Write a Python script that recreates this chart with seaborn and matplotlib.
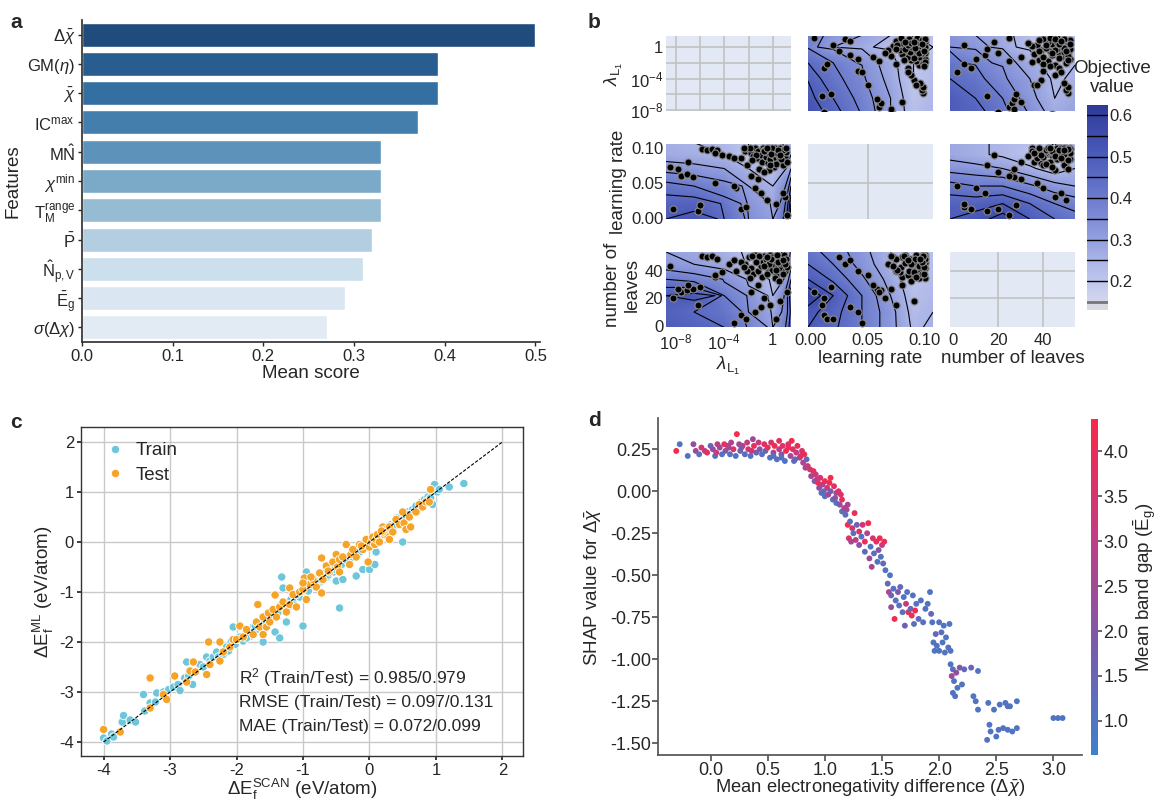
import numpy as np
import pandas as pd
import matplotlib
matplotlib.use("Agg")
import matplotlib.pyplot as plt
import seaborn as sns
from matplotlib.colors import LinearSegmentedColormap, Normalize
from matplotlib.cm import ScalarMappable

sns.set_theme(style="ticks")
plt.rcParams['font.family'] = ['Liberation Sans', 'DejaVu Sans']
plt.rcParams['mathtext.fontset'] = 'custom'
plt.rcParams['mathtext.rm'] = 'Liberation Sans'
plt.rcParams['mathtext.it'] = 'Liberation Sans:italic'
plt.rcParams['mathtext.bf'] = 'Liberation Sans:bold'
plt.rcParams['axes.unicode_minus'] = False

# ---------------- data: panel a ----------------
feature_labels = [r"$\Delta\bar{\chi}$", r"GM($\eta$)", r"$\bar{\chi}$", r"IC$^{\rm max}$",
                  r"M$\hat{\rm N}$", r"$\chi^{\rm min}$", r"T$_{\rm M}^{\rm range}$", r"$\bar{\rm P}$",
                  r"$\hat{\rm N}_{\rm p,V}$", r"$\bar{\rm E}_{\rm g}$", r"$\sigma(\Delta\chi)$"]
mean_scores = [0.500, 0.392, 0.392, 0.371, 0.330, 0.330, 0.330, 0.320, 0.310, 0.290, 0.270]

# ---------------- data: panel b (trials) ----------------
trial_l1_log10 = [-2.3, -2.0, -1.8, -1.6, -1.5, -1.3, -1.2, -1.0, -0.9, -0.8, -0.7, -0.6, -0.5, -0.4, -0.3,
                  -0.2, -0.1, 0.0, 0.1, 0.2, 0.3, 0.4, 0.5, 0.6, 0.7, 0.8, 0.9, 1.0, 1.1, 1.2,
                  -2.6, -2.1, -1.9, -1.1, -0.35, 0.15, 0.55, 0.85, -1.4, -0.75, -0.05, 0.35, 0.65, -1.7,
                  -0.45, 1.05, 0.25, -2.4, -0.15, 0.45,
                  -5.8, -5.4, -5.0, -4.6, -4.2, -3.6, -3.2, -4.8, -8.5, -7.6, -7.1, -6.6, -4.8, -3.0,
                  -8.2, -6.2, -6.0, -2.6, -2.2, -3.2, 0.3, -1.5, -1.0, -0.7, -1.2, -7.8, 1.2, 1.0, 0.8,
                  -0.5, -7.0, -1.8, 0.6, -0.2]
trial_lr = [0.095, 0.098, 0.092, 0.088, 0.100, 0.085, 0.095, 0.090, 0.080, 0.100, 0.097, 0.087, 0.093, 0.078,
            0.100, 0.083, 0.096, 0.089, 0.072, 0.099, 0.085, 0.094, 0.080, 0.100, 0.091, 0.075, 0.098, 0.086,
            0.093, 0.079,
            0.085, 0.075, 0.100, 0.070, 0.068, 0.095, 0.088, 0.097, 0.090, 0.095, 0.100, 0.092, 0.083, 0.082,
            0.099, 0.100, 0.076, 0.099, 0.091, 0.097,
            0.098, 0.097, 0.098, 0.096, 0.090, 0.088, 0.085, 0.092, 0.072, 0.060, 0.062, 0.058, 0.050, 0.042,
            0.012, 0.010, 0.018, 0.012, 0.015, 0.045, 0.020, 0.042, 0.035, 0.065, 0.055, 0.070, 0.003, 0.030,
            0.035, 0.025, 0.080, 0.060, 0.090, 0.075]
trial_leaves = [45, 50, 42, 38, 52, 48, 40, 44, 36, 47, 51, 49, 43, 39, 46, 52, 41, 45, 50, 48, 37, 44, 50, 42,
                47, 49, 52, 40, 46, 43,
                47, 40, 35, 51, 45, 35, 33, 38, 47, 44, 50, 52, 46, 51, 38, 49, 41, 43, 49, 47,
                51, 50, 51, 49, 39, 45, 48, 36, 44, 25, 26, 27, 37, 40, 20, 15, 28, 8, 5, 2, 5, 10, 14,
                20, 30, 27, 25, 45, 48, 50, 30, 25, 18, 15]

# surrogate grids (objective value) for the contour panels
lam_grid = [1.6e-9, 3.2e-7, 1e-4, 1e-2, 1.0, 31.6]
lr_grid = [-0.002, 0.02, 0.045, 0.07, 0.09, 0.107]
leaves_grid = [-1.3, 10, 22, 34, 45, 54]
z_lr_lam = [[0.55, 0.48, 0.40, 0.30, 0.22, 0.25],
            [0.52, 0.45, 0.38, 0.30, 0.21, 0.24],
            [0.48, 0.42, 0.36, 0.28, 0.20, 0.23],
            [0.45, 0.40, 0.34, 0.27, 0.20, 0.22],
            [0.38, 0.30, 0.27, 0.22, 0.18, 0.20],
            [0.40, 0.32, 0.30, 0.25, 0.20, 0.22]]
z_leaves_lam = [[0.50, 0.48, 0.42, 0.35, 0.28, 0.30],
                [0.50, 0.45, 0.40, 0.32, 0.25, 0.28],
                [0.45, 0.42, 0.36, 0.30, 0.24, 0.26],
                [0.42, 0.38, 0.33, 0.27, 0.22, 0.24],
                [0.35, 0.32, 0.28, 0.22, 0.19, 0.21],
                [0.33, 0.30, 0.27, 0.22, 0.20, 0.22]]
z_lam_lr = [[0.50, 0.52, 0.45, 0.35, 0.30, 0.55],
            [0.48, 0.48, 0.42, 0.33, 0.28, 0.50],
            [0.42, 0.40, 0.37, 0.30, 0.25, 0.40],
            [0.33, 0.32, 0.30, 0.25, 0.22, 0.30],
            [0.27, 0.26, 0.25, 0.20, 0.19, 0.25],
            [0.26, 0.25, 0.24, 0.20, 0.19, 0.24]]
z_leaves_lr = [[0.50, 0.52, 0.58, 0.50, 0.45, 0.42],
               [0.48, 0.48, 0.50, 0.45, 0.40, 0.38],
               [0.42, 0.40, 0.40, 0.36, 0.32, 0.30],
               [0.33, 0.32, 0.30, 0.26, 0.22, 0.25],
               [0.28, 0.26, 0.24, 0.21, 0.19, 0.22],
               [0.28, 0.26, 0.24, 0.22, 0.20, 0.22]]
z_lam_leaves = [[0.50, 0.48, 0.45, 0.38, 0.30, 0.45],
                [0.48, 0.45, 0.42, 0.35, 0.28, 0.42],
                [0.50, 0.52, 0.40, 0.33, 0.25, 0.45],
                [0.40, 0.38, 0.34, 0.28, 0.22, 0.35],
                [0.32, 0.30, 0.28, 0.23, 0.19, 0.28],
                [0.30, 0.28, 0.26, 0.22, 0.19, 0.26]]
z_lr_leaves = [[0.50, 0.46, 0.40, 0.32, 0.24, 0.26],
               [0.52, 0.47, 0.40, 0.32, 0.23, 0.25],
               [0.60, 0.50, 0.40, 0.30, 0.22, 0.24],
               [0.50, 0.44, 0.36, 0.28, 0.21, 0.23],
               [0.45, 0.40, 0.33, 0.26, 0.20, 0.22],
               [0.42, 0.38, 0.32, 0.25, 0.20, 0.22]]
contour_levels = [0.15, 0.20, 0.25, 0.30, 0.35, 0.40, 0.45, 0.50, 0.55, 0.60]
objective_ticks = [0.2, 0.3, 0.4, 0.5, 0.6]

# ---------------- data: panel c ----------------
train_x = [-4.0, -3.95, -3.88, -3.85, -3.72, -3.7, -3.6, -3.52, -3.4, -3.38, -3.3, -3.22, -3.2, -3.1, -3.02,
           -2.95, -2.88, -2.85, -2.78, -2.75, -2.72, -2.66, -2.62, -2.55, -2.5, -2.45, -2.4, -2.35, -2.3,
           -2.27, -2.2, -2.15, -2.12, -2.08, -2.05, -2.02, -1.98, -1.95, -1.9, -1.85, -1.82, -1.78, -1.75,
           -1.7, -1.66, -1.62, -1.6, -1.58, -1.55, -1.5, -1.48, -1.44, -1.42, -1.4, -1.36, -1.35, -1.32,
           -1.3, -1.28, -1.25, -1.22, -1.18, -1.15, -1.12, -1.08, -1.05, -1.02, -1.0, -0.98, -0.95, -0.93,
           -0.9, -0.87, -0.84, -0.8, -0.77, -0.74, -0.7, -0.67, -0.64, -0.6, -0.57, -0.54, -0.5, -0.48,
           -0.45, -0.43, -0.4, -0.38, -0.35, -0.32, -0.3, -0.27, -0.24, -0.2, -0.2, -0.17, -0.14, -0.1,
           -0.1, -0.07, -0.04, 0.0, 0.0, 0.03, 0.06, 0.08, 0.09, 0.1, 0.12, 0.15, 0.18, 0.21, 0.24, 0.27,
           0.3, 0.33, 0.36, 0.39, 0.42, 0.45, 0.48, 0.5, 0.52, 0.55, 0.58, 0.62, 0.65, 0.68, 0.72, 0.75,
           0.78, 0.8, 0.83, 0.86, 0.88, 0.9, 0.92, 0.95, 0.98, 1.02, 1.05, 1.2, 1.42,
           -0.62, -0.52, -0.42, -0.33, -0.25, -0.15, -0.05, 0.05, 0.14, 0.22, 0.35, 0.44, 0.6, 0.7,
           -1.85, -1.72, -1.52, -1.38, -1.2, -1.1, -0.92, -0.82, -0.72]
train_y = [-3.92, -3.98, -3.84, -3.9, -3.6, -3.47, -3.56, -3.6, -3.05, -3.38, -3.22, -3.2, -3.02, -3.0,
           -2.95, -2.9, -2.85, -2.97, -2.72, -2.4, -2.68, -2.85, -2.6, -2.45, -2.5, -2.3, -2.38, -2.3,
           -2.2, -2.3, -2.25, -2.1, -2.18, -2.0, -1.7, -2.05, -1.95, -1.9, -1.98, -1.85, -1.78, -1.88,
           -1.7, -1.75, -1.62, -1.68, -2.0, -1.55, -1.6, -1.45, -1.52, -1.4, -1.8, -1.38, -1.35, -1.92,
           -0.7, -0.92, -1.25, -1.6, -1.2, -1.15, -1.22, -1.1, -1.02, -1.1, -0.98, -1.68, -0.95, -0.6,
           -0.9, -0.95, -0.82, -0.88, -0.78, -0.72, -0.8, -0.68, -0.62, -0.7, -0.58, -0.52, -0.6, -0.78,
           -0.45, -1.32, -0.48, -0.75, -0.35, -0.4, -0.3, -0.38, -0.22, -0.3, -0.68, -0.18, -0.25, -0.1,
           -0.55, -0.12, -0.05, -0.1, -0.55, 0.02, -0.03, 0.1, -0.45, 0.05, -0.2, 0.12, 0.08, 0.18, 0.14,
           0.22, 0.3, 0.25, 0.35, 0.3, 0.38, 0.48, 0.42, 0.5, 0.0, 0.55, 0.5, 0.6, 0.58, 0.65, 0.62,
           0.7, 0.68, 0.8, 0.75, 0.85, 0.8, 0.9, 0.85, 0.88, 0.75, 1.15, 1.0, 1.05, 1.1, 1.17,
           -0.66, -0.55, -0.45, -0.38, -0.3, -0.2, -0.02, 0.0, 0.1, 0.25, 0.32, 0.4, 0.55, 0.72,
           -1.92, -1.68, -1.5, -1.42, -1.28, -1.05, -0.98, -0.78, -0.76]
test_x = [-4.0, -3.75, -3.3, -3.3, -3.1, -3.05, -2.93, -2.75, -2.7, -2.65, -2.62, -2.45, -2.42, -2.4, -2.25,
          -2.25, -2.2, -2.1, -2.05, -2.0, -1.95, -1.9, -1.85, -1.75, -1.7, -1.68, -1.65, -1.6, -1.6, -1.55,
          -1.52, -1.5, -1.45, -1.42, -1.4, -1.35, -1.3, -1.25, -1.2, -1.2, -1.15, -1.1, -1.05, -1.0, -0.98,
          -0.95, -0.9, -0.85, -0.8, -0.75, -0.72, -0.72, -0.7, -0.65, -0.6, -0.55, -0.5, -0.48, -0.45,
          -0.4, -0.35, -0.3, -0.28, -0.25, -0.2, -0.15, -0.1, -0.05, -0.02, 0.0, 0.03, 0.05, 0.08, 0.1,
          0.12, 0.15, 0.2, 0.22, 0.25, 0.28, 0.3, 0.35, 0.4, 0.45, 0.5, 0.52, 0.55, 0.6, 0.62, 0.7, 0.75,
          0.8, 0.85, 0.9, 0.92, 0.3, 0.2, -0.45, -0.88, -1.0, -0.62, -0.12, 0.18]
test_y = [-3.75, -3.8, -2.72, -3.32, -3.05, -3.15, -2.68, -2.8, -2.58, -2.4, -2.6, -2.65, -2.0, -2.45, -2.0,
          -2.38, -2.2, -2.1, -1.95, -1.95, -1.68, -1.9, -1.75, -1.85, -1.6, -1.25, -1.7, -1.85, -1.5, -1.7,
          -1.42, -1.6, -1.35, -1.06, -1.5, -1.3, -1.2, -1.4, -1.25, -0.92, -1.05, -1.3, -1.0, -0.95, -0.72,
          -1.15, -0.85, -0.75, -0.9, -0.62, -1.02, -0.32, -0.75, -0.48, -0.6, -0.4, -0.25, -0.5, -0.35,
          -0.3, -0.05, -0.45, -0.25, -0.15, -0.3, -0.05, -0.15, 0.05, -0.4, -0.1, 0.0, 0.1, -0.05, 0.05,
          0.15, 0.0, 0.3, 0.15, 0.25, 0.1, 0.3, 0.2, 0.45, 0.35, 0.6, 0.38, 0.25, 0.5, 0.3, 0.6, 0.75, 0.7,
          0.8, 0.8, 1.05, 0.05, 0.2, -0.6, -0.7, -0.82, -0.58, -0.08, 0.22]
metrics_text = ["R$^2$ (Train/Test) = 0.985/0.979",
                "RMSE (Train/Test) = 0.097/0.131",
                "MAE (Train/Test) = 0.072/0.099"]

# ---------------- data: panel d ----------------
shap_x = [-0.3, -0.27, -0.2, -0.15, -0.13, -0.1, -0.08, -0.05, -0.03, 0.0, 0.02, 0.04, 0.06, 0.08, 0.1, 0.12,
          0.13, 0.15, 0.17, 0.18, 0.2, 0.22, 0.23, 0.25, 0.26, 0.28, 0.3, 0.32, 0.33, 0.35, 0.37, 0.38, 0.4,
          0.42, 0.43, 0.45,
          0.47, 0.48, 0.5, 0.52, 0.53, 0.55, 0.56, 0.58, 0.6, 0.6, 0.62, 0.63, 0.65, 0.66, 0.68, 0.7, 0.71,
          0.72, 0.73, 0.75, 0.76, 0.78, 0.8, 0.81, 0.82, 0.84, 0.85,
          0.87, 0.88, 0.9, 0.91, 0.92, 0.94, 0.95, 0.96, 0.97, 0.98, 1.0, 1.0, 1.02, 1.03, 1.05, 1.05, 1.07,
          1.08, 1.1, 1.1, 1.12, 1.13, 1.15, 1.15, 1.17, 1.18, 1.2,
          1.2, 1.21, 1.22, 1.23, 1.24, 1.25, 1.26, 1.27, 1.28, 1.3, 1.3, 1.32, 1.33, 1.35, 1.35, 1.37, 1.38,
          1.39, 1.4, 1.41, 1.42, 1.43, 1.45, 1.46, 1.47, 1.48, 1.49, 1.5, 1.51, 1.52,
          1.53, 1.55, 1.56, 1.57, 1.58, 1.58, 1.6, 1.61, 1.62, 1.64, 1.65, 1.66, 1.68, 1.69, 1.7, 1.71, 1.72,
          1.73, 1.75, 1.76, 1.77, 1.78, 1.79, 1.8, 1.82, 1.84, 1.86, 1.88, 1.9, 1.92, 1.93, 1.94,
          1.95, 1.96, 1.97, 1.98, 2.0, 2.0, 2.02, 2.03, 2.04, 2.05, 2.06, 2.08, 2.09, 2.1,
          2.1, 2.11, 2.12, 2.12, 2.13, 2.14, 2.15, 2.16, 2.18, 2.2, 2.22, 2.28, 2.3, 2.32, 2.34, 2.34,
          2.42, 2.43, 2.44, 2.45, 2.48, 2.5, 2.52, 2.53, 2.56, 2.58, 2.6, 2.6, 2.62, 2.64, 2.68, 2.68,
          3.0, 3.04, 3.08,
          0.55, 0.62, 0.68, 0.74, 0.79, 0.83, 0.93, 0.99, 1.04, 1.09, 1.14, 1.19, 0.05, 0.16, 0.27, 0.36]
shap_y = [0.24, 0.28, 0.21, 0.28, 0.24, 0.22, 0.26, 0.24, 0.23, 0.27, 0.25, 0.21, 0.28, 0.26, 0.22, 0.28,
          0.24, 0.27, 0.22, 0.29, 0.25, 0.21, 0.34, 0.28, 0.24, 0.27, 0.22, 0.29, 0.25, 0.21, 0.31, 0.27,
          0.23, 0.29, 0.25, 0.22,
          0.28, 0.24, 0.26, 0.2, 0.29, 0.23, 0.27, 0.19, 0.3, 0.25, 0.22, 0.27, 0.18, 0.24, 0.28, 0.21, 0.3,
          0.25, 0.18, 0.23, 0.27, 0.2, 0.24, 0.17, 0.22, 0.19, 0.15,
          0.13, 0.09, 0.12, 0.06, 0.1, 0.05, 0.02, 0.08, -0.01, 0.04, 0.06, -0.03, 0.02, -0.02, 0.08, 0.0,
          -0.05, 0.03, -0.01, -0.07, 0.0, -0.08, -0.05, -0.12, -0.1, -0.14, -0.08,
          -0.2, -0.28, -0.18, -0.3, -0.22, -0.25, -0.13, -0.29, -0.2, -0.24, -0.32, -0.27, -0.2, -0.3,
          -0.36, -0.25, -0.19, -0.4, -0.33, -0.45, -0.28, -0.37, -0.3, -0.42, -0.35, -0.28, -0.39, -0.32,
          -0.43, -0.3,
          -0.47, -0.55, -0.6, -0.5, -0.62, -0.69, -0.58, -0.76, -0.65, -0.6, -0.68, -0.57, -0.72, -0.63,
          -0.8, -0.67, -0.6, -0.72, -0.7, -0.74, -0.62, -0.79, -0.71, -0.67, -0.76, -0.65, -0.78, -0.7,
          -0.67, -0.6, -0.73, -0.78,
          -0.9, -0.95, -0.85, -0.92, -0.78, -0.95, -0.84, -0.9, -0.8, -0.96, -0.87, -0.93, -0.79, -0.95,
          -1.03, -1.1, -1.06, -1.2, -1.13, -1.22, -1.08, -1.17, -1.05, -1.15, -1.06, -1.05, -1.22, -1.25,
          -1.07, -1.3,
          -1.48, -1.26, -1.39, -1.43, -1.3, -1.46, -1.42, -1.27, -1.41, -1.26, -1.28, -1.42, -1.28, -1.43,
          -1.25, -1.41,
          -1.35, -1.35, -1.35,
          0.21, 0.2, 0.26, 0.19, 0.21, 0.14, 0.07, 0.0, 0.05, -0.04, -0.02, -0.11, 0.23, 0.26, 0.26, 0.24]
shap_gap = [4.2, 1.0, 1.0, 2.3, 2.5, 1.2, 3.6, 2.8, 4.0, 1.5, 2.2, 1.0, 3.0, 2.6, 1.1, 3.9, 2.0, 3.3, 1.2, 2.7,
            3.8, 1.0, 4.3, 2.4, 1.6, 3.5, 1.3, 2.9, 3.6, 1.1, 2.5, 4.0, 1.4, 3.2, 2.0, 1.2,
            3.8, 1.5, 4.1, 1.0, 3.5, 2.6, 4.2, 1.2, 4.0, 3.0, 2.2, 3.7, 1.0, 4.2, 3.4, 2.5, 4.3, 3.9, 1.3,
            3.1, 4.0, 2.0, 3.6, 2.8, 4.1, 1.5, 3.3,
            3.8, 2.5, 4.0, 1.6, 3.2, 4.2, 2.2, 3.6, 1.2, 2.9, 4.1, 1.0, 3.4, 2.6, 4.3, 1.8, 1.1, 3.9, 2.4,
            1.0, 3.5, 2.0, 4.0, 1.1, 3.0, 1.3, 2.7,
            4.2, 3.9, 1.2, 2.5, 3.5, 1.0, 4.0, 3.0, 1.5, 3.8, 2.2, 1.1, 3.4, 4.1, 1.3, 2.8, 4.2, 2.4, 1.0,
            2.6, 3.6, 1.2, 3.9, 1.0, 2.0, 4.2, 1.1, 3.3, 1.4, 4.0,
            1.0, 1.3, 2.8, 1.0, 1.5, 2.3, 1.1, 4.3, 1.2, 2.0, 1.0, 1.4, 1.2, 1.0, 1.6, 3.2, 1.1, 4.0, 1.3,
            3.9, 1.0, 1.2, 4.2, 1.1, 1.3, 1.0, 1.2, 1.0, 1.1, 1.0, 1.4, 1.0,
            1.1, 1.0, 1.3, 1.0, 1.1, 1.0, 1.2, 1.0, 1.0, 1.1, 1.0, 1.2, 1.0, 1.0,
            1.0, 2.5, 1.2, 1.0, 1.0, 1.1, 2.2, 1.0, 2.0, 1.1, 1.3, 1.5, 1.0, 1.1, 1.0, 1.0,
            1.0, 1.0, 1.0, 1.0, 1.0, 1.0, 1.1, 1.0, 1.0, 1.0, 1.1, 1.0, 1.0, 1.0, 1.0, 1.0,
            1.0, 1.0, 1.0,
            1.2, 1.0, 4.1, 1.4, 3.8, 2.6, 3.0, 1.3, 4.2, 2.1, 3.7, 2.4, 3.1, 2.6, 1.9, 3.4]

# ---------------- figure ----------------
W, H = 1156, 800
fig = plt.figure(figsize=(W / 100, H / 100), dpi=100)


def pos(x0, y0, x1, y1):
    return [x0 / W, 1 - y1 / H, (x1 - x0) / W, (y1 - y0) / H]


TICK = 12
LAB = 13.5

# ---- panel a ----
axA = fig.add_axes(pos(82, 20, 540, 342))
bar_colors = sns.blend_palette(["#1f4b7d", "#2e6a9e", "#4a84b0", "#7aaac8", "#a9c8dc", "#d4e5f1", "#e2eaf3"], 11)
dfa = pd.DataFrame({"feature": feature_labels, "score": mean_scores})
sns.barplot(data=dfa, x="score", y="feature", hue="feature", palette=bar_colors, legend=False,
            saturation=1, width=0.82, ax=axA)
axA.set_xlim(0, 0.505)
axA.set_xticks([0.0, 0.1, 0.2, 0.3, 0.4, 0.5])
axA.set_xticklabels(["0.0", "0.1", "0.2", "0.3", "0.4", "0.5"])
sns.despine(ax=axA)
axA.tick_params(labelsize=TICK, length=3, width=1, pad=2)
axA.set_xlabel("Mean score", fontsize=LAB, labelpad=1)
axA.set_ylabel("Features", fontsize=LAB, labelpad=4)
for s in axA.spines.values():
    s.set_color("#333333")

# ---- panel b ----
obj_cmap = LinearSegmentedColormap.from_list(
    "obj", [(0.0, "#dcdcdc"), (0.06, "#cfd4ef"), (0.2, "#b3bcea"), (0.4, "#8895da"),
            (0.6, "#6272c8"), (0.8, "#4655b4"), (1.0, "#2e3a98")])
obj_norm = Normalize(0.13, 0.625)

params = ["lam", "lr", "leaves"]
grid_of = {"lam": lam_grid, "lr": lr_grid, "leaves": leaves_grid}
xlims = {"lam": (10 ** -8.8, 10 ** 1.5), "lr": (-0.002, 0.107), "leaves": (-1.3, 54)}
ylims = {"lam": (10 ** -8.1, 10 ** 1.4), "lr": (-0.002, 0.105), "leaves": (-1.0, 54)}
trial_vals = {"lam": 10.0 ** np.array(trial_l1_log10), "lr": np.array(trial_lr),
              "leaves": np.array(trial_leaves)}
zmap = {("lr", "lam"): z_lr_lam, ("leaves", "lam"): z_leaves_lam, ("lam", "lr"): z_lam_lr,
        ("leaves", "lr"): z_leaves_lr, ("lam", "leaves"): z_lam_leaves, ("lr", "leaves"): z_lr_leaves}
ticks = {"lam": ([1e-8, 1e-4, 1], [r"10$^{-8}$", r"10$^{-4}$", "1"]),
         "lr": ([0.0, 0.05, 0.10], ["0.00", "0.05", "0.10"]),
         "leaves": ([0, 20, 40], ["0", "20", "40"])}
xlabels = {"lam": r"$\lambda_{\rm L_1}$", "lr": "learning rate", "leaves": "number of leaves"}
ylabels = {"lam": r"$\lambda_{\rm L_1}$", "lr": "learning rate", "leaves": "number of\nleaves"}
diag_grid = {"lam": [1e-8, 1e-6, 1e-4, 1e-2, 1], "lr": [0.05], "leaves": [20, 40]}

col_x = [(666, 791), (808, 933), (950, 1075)]
row_y = [(36, 111), (144, 219), (252, 327)]

for i, py in enumerate(params):
    for j, px in enumerate(params):
        ax = fig.add_axes(pos(col_x[j][0], row_y[i][0], col_x[j][1], row_y[i][1]))
        if px == "lam":
            ax.set_xscale("log")
        if py == "lam":
            ax.set_yscale("log")
        if i == j:
            ax.set_facecolor("#e3e9f4")
            for g in diag_grid[px]:
                ax.axvline(g, color="#c2c2c2", lw=1.2, zorder=0)
                ax.axhline(g, color="#c2c2c2", lw=1.2, zorder=0)
        else:
            X, Y = np.meshgrid(grid_of[px], grid_of[py])
            Z = np.array(zmap[(px, py)])
            ax.pcolormesh(X, Y, Z, cmap=obj_cmap, norm=obj_norm, shading="gouraud", zorder=0)
            ax.contour(X, Y, Z, levels=contour_levels, colors="black", linewidths=0.8, zorder=1)
            sns.scatterplot(x=trial_vals[px], y=trial_vals[py], color="black", edgecolor="#8a8a8a",
                            linewidth=0.8, s=26, ax=ax, zorder=3, legend=False)
        ax.set_xlim(xlims[px])
        ax.set_ylim(ylims[py])
        ax.minorticks_off()
        ax.set_xticks(ticks[px][0])
        ax.set_yticks(ticks[py][0])
        ax.tick_params(length=0, labelsize=TICK, pad=2)
        ax.tick_params(axis="x", pad=4)
        if i == 2:
            ax.set_xticklabels(ticks[px][1])
            ax.set_xlabel(xlabels[px], fontsize=LAB, labelpad=2)
        else:
            ax.set_xticklabels([])
        if j == 0:
            ax.set_yticklabels(ticks[py][1])
            ax.set_ylabel(ylabels[py], fontsize=LAB, labelpad=3, y=0.56 if py == "leaves" else 0.5)
        else:
            ax.set_yticklabels([])
        for s in ax.spines.values():
            s.set_visible(False)

caxB = fig.add_axes(pos(1087, 105, 1108, 310))
cbB = fig.colorbar(ScalarMappable(norm=obj_norm, cmap=obj_cmap), cax=caxB)
cbB.outline.set_visible(False)
cbB.set_ticks(objective_ticks)
cbB.set_ticklabels(["0.2", "0.3", "0.4", "0.5", "0.6"])
caxB.tick_params(length=0, labelsize=TICK, pad=1)
for lv in contour_levels:
    caxB.axhline(lv, color="black" if lv > 0.16 else "#777777", lw=1.0 if lv > 0.16 else 2.0)
fig.text(1112 / W, 1 - 78 / H, "Objective\nvalue", ha="center", va="center", fontsize=LAB, linespacing=1.1)

# ---- panel c ----
axC = fig.add_axes(pos(81, 427, 523, 756))
dfc = pd.DataFrame({"x": train_x + test_x, "y": train_y + test_y,
                    "set": ["Train"] * len(train_x) + ["Test"] * len(test_x)})
axC.grid(True, color="#c9c9c9", lw=1.0)
axC.set_axisbelow(True)
sns.scatterplot(data=dfc, x="x", y="y", hue="set", palette={"Train": "#6ec6db", "Test": "#f5a428"},
                s=36, edgecolor="white", linewidth=0.6, ax=axC, zorder=2)
axC.plot([-4, 2], [-4, 2], color="black", ls=(0, (3, 1.5)), lw=0.8, zorder=3)
axC.set_xlim(-4.34, 2.31)
axC.set_ylim(-4.28, 2.3)
axC.set_xticks([-4, -3, -2, -1, 0, 1, 2])
axC.set_yticks([-4, -3, -2, -1, 0, 1, 2])
axC.tick_params(labelsize=TICK, length=3, pad=2)
for s in axC.spines.values():
    s.set_color("#333333")
    s.set_linewidth(1.0)
axC.set_xlabel(r"$\Delta$E$_{\rm f}^{\rm SCAN}$ (eV/atom)", fontsize=LAB, labelpad=-1)
axC.set_ylabel(r"$\Delta$E$_{\rm f}^{\rm ML}$ (eV/atom)", fontsize=LAB, labelpad=2)
h, l = axC.get_legend_handles_labels()
axC.legend(h, l, loc="upper left", frameon=False, fontsize=LAB, handletextpad=0.1,
           borderaxespad=0.4, labelspacing=0.4, markerscale=1.0)
for k, t in enumerate(metrics_text):
    axC.text(-1.97, -2.72 - 0.48 * k, t, fontsize=TICK + 0.5, va="center", ha="left")

# ---- panel d ----
shap_cmap = LinearSegmentedColormap.from_list("shap", ["#3f80cc", "#7a5aab", "#c63a80", "#f52a4c"])
axD = fig.add_axes(pos(658, 418, 1082, 755))
dfd = pd.DataFrame({"x": shap_x, "y": shap_y, "gap": shap_gap})
sns.scatterplot(data=dfd, x="x", y="y", hue="gap", palette=shap_cmap, hue_norm=(0.62, 4.36),
                s=18, linewidth=0, legend=False, ax=axD)
axD.set_xlim(-0.46, 3.25)
axD.set_ylim(-1.57, 0.436)
axD.set_xticks([0.0, 0.5, 1.0, 1.5, 2.0, 2.5, 3.0])
axD.set_xticklabels(["0.0", "0.5", "1.0", "1.5", "2.0", "2.5", "3.0"])
yt = [0.25, 0.0, -0.25, -0.5, -0.75, -1.0, -1.25, -1.5]
axD.set_yticks(yt)
axD.set_yticklabels(["0.25", "0.00", "-0.25", "-0.50", "-0.75", "-1.00", "-1.25", "-1.50"])
sns.despine(ax=axD)
for s in ["left", "bottom"]:
    axD.spines[s].set_color("#555555")
axD.tick_params(labelsize=13, length=4, pad=1, color="#555555")
axD.set_xlabel(r"Mean electronegativity difference ($\Delta\bar{\chi}$)", fontsize=13.2, labelpad=-1)
axD.set_ylabel(r"SHAP value for $\Delta\bar{\chi}$", fontsize=LAB, labelpad=4)

caxD = fig.add_axes(pos(1091, 419, 1098, 755))
cbD = fig.colorbar(ScalarMappable(norm=Normalize(0.62, 4.36), cmap=shap_cmap), cax=caxD)
cbD.outline.set_visible(False)
cbD.set_ticks([1.0, 1.5, 2.0, 2.5, 3.0, 3.5, 4.0])
caxD.tick_params(labelsize=13, length=3, pad=1, color="#555555")
cbD.set_label(r"Mean band gap ($\bar{\rm E}_{\rm g}$)", fontsize=LAB, labelpad=2)

# ---- panel letters ----
for letter, (x, y) in {"a": (10, 22), "b": (588, 22), "c": (10, 422), "d": (588, 420)}.items():
    fig.text(x / W, 1 - y / H, letter, fontsize=15, fontweight="bold", va="center", ha="left")

fig.savefig("out.png", dpi=100)
